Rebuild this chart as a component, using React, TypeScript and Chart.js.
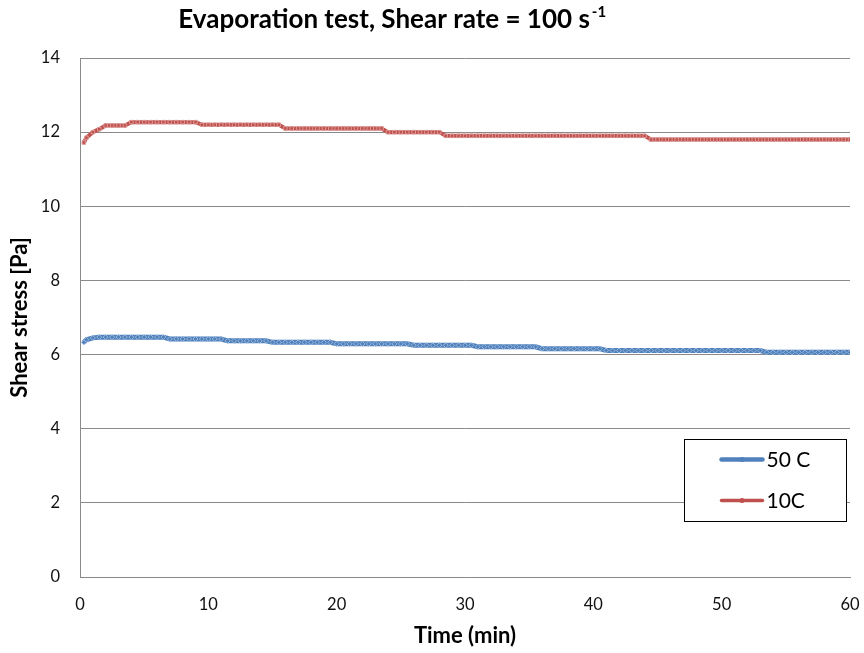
import React, { useEffect, useRef } from "react";
import { Chart, registerables } from "chart.js";

Chart.register(...registerables);

// ---- data ----
const timeMin = [
  0.3, 0.5, 1, 1.5, 2, 2.5, 3, 3.5, 4, 4.5, 5, 5.5, 6, 6.5, 7, 7.5, 8, 8.5, 9, 9.5,
  10, 10.5, 11, 11.5, 12, 12.5, 13, 13.5, 14, 14.5, 15, 15.5, 16, 16.5, 17, 17.5, 18, 18.5, 19, 19.5,
  20, 20.5, 21, 21.5, 22, 22.5, 23, 23.5, 24, 24.5, 25, 25.5, 26, 26.5, 27, 27.5, 28, 28.5, 29, 29.5,
  30, 30.5, 31, 31.5, 32, 32.5, 33, 33.5, 34, 34.5, 35, 35.5, 36, 36.5, 37, 37.5, 38, 38.5, 39, 39.5,
  40, 40.5, 41, 41.5, 42, 42.5, 43, 43.5, 44, 44.5, 45, 45.5, 46, 46.5, 47, 47.5, 48, 48.5, 49, 49.5,
  50, 50.5, 51, 51.5, 52, 52.5, 53, 53.5, 54, 54.5, 55, 55.5, 56, 56.5, 57, 57.5, 58, 58.5, 59, 59.5,
  60,
];

const stress50C = [
  6.33, 6.40, 6.45,
  6.47, 6.47, 6.47, 6.47, 6.47, 6.47, 6.47, 6.47, 6.47, 6.47, 6.47,
  6.42, 6.42, 6.42, 6.42, 6.42, 6.42, 6.42, 6.42, 6.42,
  6.37, 6.37, 6.37, 6.37, 6.37, 6.37, 6.37,
  6.33, 6.33, 6.33, 6.33, 6.33, 6.33, 6.33, 6.33, 6.33, 6.33,
  6.29, 6.29, 6.29, 6.29, 6.29, 6.29, 6.29, 6.29, 6.29, 6.29, 6.29, 6.29,
  6.25, 6.25, 6.25, 6.25, 6.25, 6.25, 6.25, 6.25, 6.25, 6.25,
  6.21, 6.21, 6.21, 6.21, 6.21, 6.21, 6.21, 6.21, 6.21, 6.21,
  6.16, 6.16, 6.16, 6.16, 6.16, 6.16, 6.16, 6.16, 6.16, 6.16,
  6.11, 6.11, 6.11, 6.11, 6.11, 6.11, 6.11, 6.11, 6.11, 6.11, 6.11, 6.11, 6.11,
  6.11, 6.11, 6.11, 6.11, 6.11, 6.11, 6.11, 6.11, 6.11, 6.11, 6.11, 6.11,
  6.06, 6.06, 6.06, 6.06, 6.06, 6.06, 6.06, 6.06, 6.06, 6.06, 6.06, 6.06, 6.06, 6.06,
];

const stress10C = [
  11.72, 11.85, 12.0, 12.08,
  12.18, 12.18, 12.18, 12.18,
  12.27, 12.27, 12.27, 12.27, 12.27, 12.27, 12.27, 12.27, 12.27, 12.27, 12.27,
  12.2, 12.2, 12.2, 12.2, 12.2, 12.2, 12.2, 12.2, 12.2, 12.2, 12.2, 12.2, 12.2,
  12.1, 12.1, 12.1, 12.1, 12.1, 12.1, 12.1, 12.1, 12.1, 12.1, 12.1, 12.1, 12.1, 12.1, 12.1, 12.1,
  12.0, 12.0, 12.0, 12.0, 12.0, 12.0, 12.0, 12.0, 12.0,
  11.9, 11.9, 11.9, 11.9, 11.9, 11.9, 11.9, 11.9, 11.9, 11.9, 11.9, 11.9, 11.9, 11.9, 11.9, 11.9,
  11.9, 11.9, 11.9, 11.9, 11.9, 11.9, 11.9, 11.9, 11.9, 11.9, 11.9, 11.9, 11.9, 11.9, 11.9, 11.9,
  11.8, 11.8, 11.8, 11.8, 11.8, 11.8, 11.8, 11.8, 11.8, 11.8, 11.8, 11.8, 11.8, 11.8, 11.8, 11.8,
  11.8, 11.8, 11.8, 11.8, 11.8, 11.8, 11.8, 11.8, 11.8, 11.8, 11.8, 11.8, 11.8, 11.8, 11.8, 11.8,
];

const seriesLabels = ["50 C", "10C"];
const seriesColors = ["#4F81BD", "#C0504D"];
const seriesMarkerEdge = ["#9DB9DC", "#DC9A98"];
const xTickValues = [0, 10, 20, 30, 40, 50, 60];
const yTickValues = [0, 2, 4, 6, 8, 10, 12, 14];
const titleMain = "Evaporation test, Shear rate = 100 s";
const titleSup = "-1";
const xAxisTitle = "Time (min)";
const yAxisTitle = "Shear stress [Pa]";

const FONT = "Lato, 'Open Sans', 'DejaVu Sans', sans-serif";

const titlePlugin = {
  id: "supTitle",
  afterDraw(chart: any) {
    const ctx = chart.ctx as CanvasRenderingContext2D;
    ctx.save();
    ctx.fillStyle = "#000";
    ctx.textBaseline = "alphabetic";
    ctx.textAlign = "left";
    ctx.font = `bold 26px ${FONT}`;
    const w1 = ctx.measureText(titleMain).width;
    ctx.font = `bold 15px ${FONT}`;
    const w2 = ctx.measureText(titleSup).width;
    const total = w1 + 2 + w2;
    const cx = chart.width * 0.454;
    const x0 = cx - total / 2;
    ctx.font = `bold 26px ${FONT}`;
    ctx.fillText(titleMain, x0, 28);
    ctx.font = `bold 15px ${FONT}`;
    ctx.fillText(titleSup, x0 + w1 + 2, 17);
    ctx.restore();
  },
};

const legendPlugin = {
  id: "boxLegend",
  afterDraw(chart: any) {
    const ctx = chart.ctx as CanvasRenderingContext2D;
    const area = chart.chartArea;
    const bw = 162;
    const bh = 82;
    const bx = Math.round(area.right - 166) + 0.5;
    const by = Math.round(area.bottom - 138) + 0.5;
    ctx.save();
    ctx.fillStyle = "#fff";
    ctx.fillRect(bx, by, bw, bh);
    ctx.strokeStyle = "#000";
    ctx.lineWidth = 1;
    ctx.strokeRect(bx, by, bw, bh);
    const rows = [by + 20, by + 61];
    chart.data.datasets.forEach((ds: any, i: number) => {
      const y = rows[i];
      ctx.strokeStyle = ds.borderColor;
      ctx.lineWidth = i === 0 ? 4.5 : 3.5;
      ctx.lineCap = "round";
      ctx.beginPath();
      ctx.moveTo(bx + 37, y);
      ctx.lineTo(bx + 78, y);
      ctx.stroke();
      ctx.fillStyle = ds.borderColor;
      ctx.beginPath();
      ctx.arc(bx + 57.5, y, 2.5, 0, Math.PI * 2);
      ctx.fill();
      ctx.fillStyle = "#000";
      ctx.font = `21px ${FONT}`;
      ctx.textBaseline = "middle";
      ctx.textAlign = "left";
      ctx.fillText(ds.label, bx + 82, y + 1);
    });
    ctx.restore();
  },
};

export default function App() {
  const canvasRef = useRef<HTMLCanvasElement | null>(null);

  useEffect(() => {
    const canvas = canvasRef.current;
    if (!canvas) return;
    const series = [stress50C, stress10C];
    const chart = new Chart(canvas, {
      type: "line",
      data: {
        datasets: series.map((vals, i) => ({
          label: seriesLabels[i],
          data: timeMin.map((t, j) => ({ x: t, y: vals[j] })),
          borderColor: seriesColors[i],
          backgroundColor: seriesColors[i],
          borderWidth: i === 0 ? 5 : 4,
          pointRadius: 2.5,
          pointBorderWidth: 1,
          pointBorderColor: seriesMarkerEdge[i],
          pointStyle: i === 0 ? "rectRot" : "rect",
          pointBackgroundColor: seriesColors[i],
          tension: 0,
          fill: false,
        })),
      },
      options: {
        animation: false,
        responsive: false,
        maintainAspectRatio: false,
        layout: { padding: { top: 58, right: 0, left: 0, bottom: 0 } },
        plugins: {
          legend: { display: false },
          title: { display: false },
          tooltip: { enabled: false },
        },
        scales: {
          x: {
            type: "linear",
            min: 0,
            max: 60,
            afterBuildTicks: (s: any) => {
              s.ticks = xTickValues.map((v) => ({ value: v }));
            },
            ticks: {
              padding: 18,
              color: "#111",
              font: { size: 16.5, family: FONT },
            },
            grid: { display: false, drawTicks: false },
            border: { display: true, color: "#8a8a8a", width: 1 },
            title: {
              display: true,
              text: xAxisTitle,
              color: "#000",
              font: { size: 22, weight: "bold", family: FONT },
              padding: { top: 0, bottom: 4 },
            },
            afterFit: (s: any) => {
              s.height = 76;
              s.paddingRight = 14;
              s.paddingLeft = 0;
            },
          },
          y: {
            type: "linear",
            min: 0,
            max: 14,
            afterBuildTicks: (s: any) => {
              s.ticks = yTickValues.map((v) => ({ value: v }));
            },
            ticks: {
              padding: 20,
              color: "#111",
              font: { size: 16.5, family: FONT },
            },
            grid: { color: "#8a8a8a", lineWidth: 1, drawTicks: false },
            border: { display: true, color: "#8a8a8a", width: 1 },
            title: {
              display: true,
              text: yAxisTitle,
              color: "#000",
              font: { size: 22, weight: "bold", family: FONT },
              padding: { top: 7, bottom: 0 },
            },
            afterFit: (s: any) => {
              s.width = 80;
            },
          },
        },
      },
      plugins: [titlePlugin, legendPlugin],
    } as any);
    return () => chart.destroy();
  }, []);

  return (
    <div style={{ position: "fixed", left: 0, top: 0, width: 864, height: 653, background: "#fff" }}>
      <canvas ref={canvasRef} width={864} height={653} style={{ display: "block", width: 864, height: 653 }} />
    </div>
  );
}
